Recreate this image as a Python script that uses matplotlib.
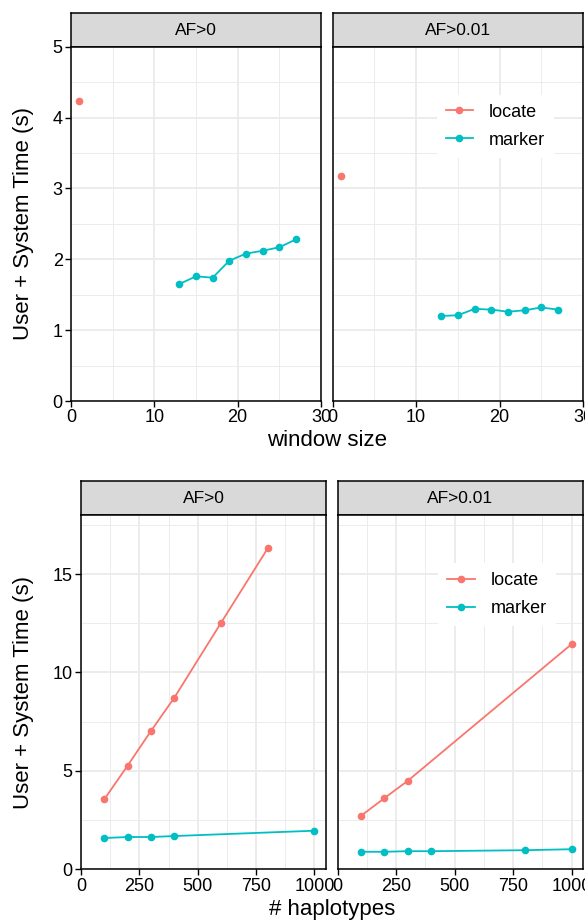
import matplotlib
matplotlib.use("Agg")
import matplotlib.pyplot as plt

plt.rcParams['font.family'] = ['Liberation Sans', 'DejaVu Sans']

# ---- data: top chart (window size) ----
win_locate_x = [1]
win_locate_af0 = [4.23]
win_locate_af001 = [3.18]
win_marker_x = [13, 15, 17, 19, 21, 23, 25, 27]
win_marker_af0 = [1.65, 1.76, 1.74, 1.98, 2.08, 2.12, 2.17, 2.28]
win_marker_af001 = [1.20, 1.21, 1.30, 1.29, 1.26, 1.28, 1.32, 1.29]

# ---- data: bottom chart (# haplotypes) ----
hap_locate_x_af0 = [100, 200, 300, 400, 600, 800]
hap_locate_af0 = [3.56, 5.27, 7.03, 8.72, 12.52, 16.30]
hap_marker_x_af0 = [100, 200, 300, 400, 1000]
hap_marker_af0 = [1.59, 1.64, 1.64, 1.69, 1.96]
hap_locate_x_af001 = [100, 200, 300, 1000]
hap_locate_af001 = [2.72, 3.62, 4.50, 11.44]
hap_marker_x_af001 = [100, 200, 300, 400, 800, 1000]
hap_marker_af001 = [0.89, 0.89, 0.92, 0.92, 0.97, 1.02]

facets = ["AF>0", "AF>0.01"]
RED = "#F8766D"
CYAN = "#00BFC4"

W, H = 585, 921
fig = plt.figure(figsize=(W / 100, H / 100), dpi=100)


def px_axes(l, t, r, b):
    return fig.add_axes([l / W, 1 - b / H, (r - l) / W, (b - t) / H])


def strip(l, t, r, b, label):
    s = px_axes(l, t, r, b)
    s.set_facecolor("#D9D9D9")
    s.set_xticks([])
    s.set_yticks([])
    for sp in s.spines.values():
        sp.set_color("black")
        sp.set_linewidth(1.1)
    s.text(0.5, 0.48, label, ha="center", va="center", fontsize=12.5)


def panel(l, t, r, b, xlim, ylim, xmaj, xmin, ymaj, ymin, show_y):
    ax = px_axes(l, t, r, b)
    ax.set_xlim(*xlim)
    ax.set_ylim(*ylim)
    ax.set_xticks(xmaj)
    ax.set_xticks(xmin, minor=True)
    ax.set_yticks(ymaj)
    ax.set_yticks(ymin, minor=True)
    ax.grid(True, which="major", color="#EBEBEB", lw=1.3, zorder=0)
    ax.grid(True, which="minor", color="#EBEBEB", lw=0.65, zorder=0)
    ax.set_axisbelow(True)
    for sp in ax.spines.values():
        sp.set_color("black")
        sp.set_linewidth(1.1)
    ax.tick_params(which="major", direction="out", length=4, width=1,
                   labelsize=13, colors="black", pad=2)
    ax.tick_params(which="minor", length=0)
    if not show_y:
        ax.tick_params(axis="y", which="major", length=0, labelleft=False)
    return ax


def series(ax, x, y, color, label):
    ax.plot(x, y, color=color, lw=1.3, marker="o", markersize=5.5,
            markeredgewidth=0, label=label, clip_on=False, zorder=3)


def legend(ax, anchor):
    leg = ax.legend(loc="upper left", bbox_to_anchor=anchor, borderaxespad=0,
                    frameon=True, fontsize=13, handlelength=1.5, labelspacing=0.62,
                    handletextpad=0.9, borderpad=0.5)
    leg.get_frame().set_facecolor("white")
    leg.get_frame().set_edgecolor("none")
    leg.get_frame().set_alpha(1)


# ---- top chart ----
top_boxes = [(71, 46.7, 321, 401), (332.7, 46.7, 583, 401)]
top_locate = [win_locate_af0, win_locate_af001]
top_marker = [win_marker_af0, win_marker_af001]
top_axes = []
for i, (l, t, r, b) in enumerate(top_boxes):
    strip(l, 13, r, t, facets[i])
    ax = panel(l, t, r, b, (0, 30), (0, 5), [0, 10, 20, 30], [5, 15, 25],
               [0, 1, 2, 3, 4, 5], [0.5, 1.5, 2.5, 3.5, 4.5], i == 0)
    series(ax, win_locate_x, top_locate[i], RED, "locate")
    series(ax, win_marker_x, top_marker[i], CYAN, "marker")
    top_axes.append(ax)

fig.text(24 / W, 1 - 224 / H, "User + System Time (s)", rotation=90,
         ha="center", va="center", fontsize=16)
fig.text(327 / W, 1 - 440 / H, "window size", ha="center", va="center", fontsize=16)
legend(top_axes[1], (0.415, 0.865))

# ---- bottom chart ----
bot_boxes = [(81, 515, 326, 869.3), (337.7, 515, 583.3, 869.3)]
bot_locate = [(hap_locate_x_af0, hap_locate_af0), (hap_locate_x_af001, hap_locate_af001)]
bot_marker = [(hap_marker_x_af0, hap_marker_af0), (hap_marker_x_af001, hap_marker_af001)]
bot_axes = []
for i, (l, t, r, b) in enumerate(bot_boxes):
    strip(l, 480.7, r, t, facets[i])
    ax = panel(l, t, r, b, (0, 1050), (0, 18), [0, 250, 500, 750, 1000],
               [125, 375, 625, 875], [0, 5, 10, 15], [2.5, 7.5, 12.5, 17.5], i == 0)
    series(ax, *bot_locate[i], RED, "locate")
    series(ax, *bot_marker[i], CYAN, "marker")
    bot_axes.append(ax)

fig.text(24 / W, 1 - 692 / H, "User + System Time (s)", rotation=90,
         ha="center", va="center", fontsize=16)
fig.text(332 / W, 1 - 909 / H, "# haplotypes", ha="center", va="center", fontsize=16)
legend(bot_axes[1], (0.41, 0.865))

fig.savefig("out.png", dpi=100)
